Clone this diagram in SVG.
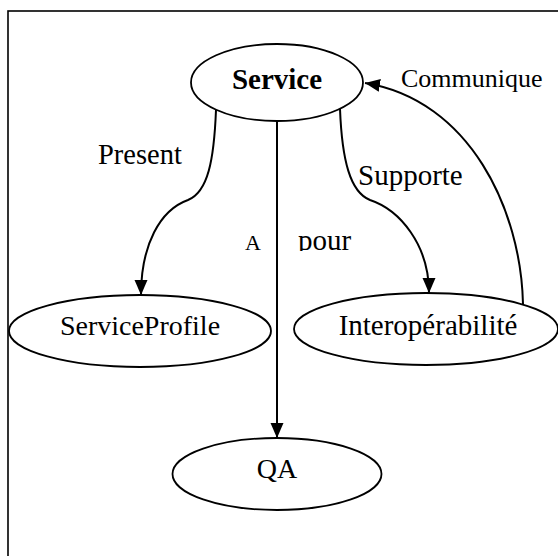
<svg xmlns="http://www.w3.org/2000/svg" width="558" height="556" viewBox="0 0 558 556">
  <style>
    .node ellipse { fill: #ffffff; stroke: #000000; stroke-width: 1.8; }
    .lbl { font-family: "Liberation Serif", "Times New Roman", serif; fill: #000000; }
    .edge { fill: none; stroke: #000000; stroke-width: 2; }
  </style>
  <defs>
    <marker id="arrow" markerUnits="userSpaceOnUse" markerWidth="16" markerHeight="14" refX="15" refY="6.5" orient="auto">
      <path d="M0,0 L15,6.5 L0,13 z" fill="#000000"/>
    </marker>
    <clipPath id="clipPour">
      <rect x="290" y="200" width="80" height="51"/>
    </clipPath>
  </defs>
  <rect x="0" y="0" width="558" height="556" fill="#ffffff"/>
  <rect id="frame" x="8" y="11" width="620" height="620" fill="none" stroke="#000000" stroke-width="1.6"/>

  <g id="connectors">
    <path class="edge" d="M216,110 C214,160 208,192 188,200 C160,210 141,245 141,295" marker-end="url(#arrow)"/>
    <path class="edge" d="M340,109 C342,160 350,192 370,200 C400,210 429,245 429,293" marker-end="url(#arrow)"/>
    <path class="edge" d="M277,121 L277,438" marker-end="url(#arrow)"/>
    <path class="edge" d="M523,304 C521,210 470,100 365,83" marker-end="url(#arrow)"/>
    <text class="lbl" x="98" y="163.5" font-size="28.5">Present</text>
    <text class="lbl" x="358" y="185" font-size="29">Supporte</text>
    <text class="lbl" x="401" y="87.3" font-size="26">Communique</text>
    <text class="lbl" x="245" y="250" font-size="22">A</text>
    <text class="lbl" x="298" y="250" font-size="29" clip-path="url(#clipPour)">pour</text>
  </g>

  <g id="node-service" class="node">
    <ellipse cx="277" cy="82.5" rx="86" ry="38.5"/>
    <text class="lbl" x="277" y="88.5" font-size="29" font-weight="bold" text-anchor="middle">Service</text>
  </g>
  <g id="node-serviceprofile" class="node">
    <ellipse cx="140" cy="331" rx="131" ry="36"/>
    <text class="lbl" x="140" y="335" font-size="28" text-anchor="middle">ServiceProfile</text>
  </g>
  <g id="node-interop" class="node">
    <ellipse cx="426" cy="329" rx="132" ry="36"/>
    <text class="lbl" x="428" y="335" font-size="29" text-anchor="middle">Interopérabilité</text>
  </g>
  <g id="node-qa" class="node">
    <ellipse cx="277" cy="474" rx="104.5" ry="36"/>
    <text class="lbl" x="277" y="478" font-size="28" text-anchor="middle">QA</text>
  </g>
</svg>
